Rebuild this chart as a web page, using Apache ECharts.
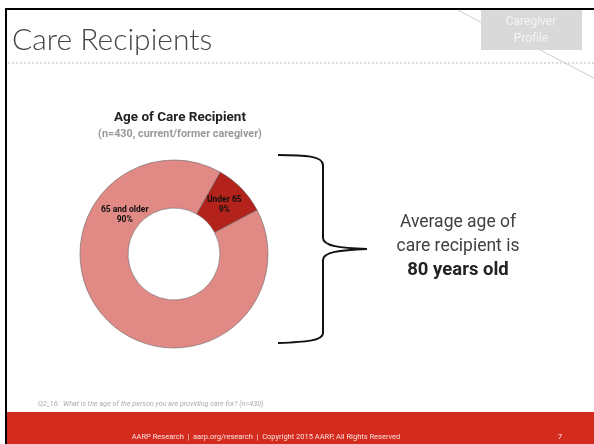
<!DOCTYPE html>
<html><head><meta charset="utf-8">
<script src="https://cdn.jsdelivr.net/npm/echarts@6/dist/echarts.min.js"></script>
<style>html,body{margin:0;padding:0;background:#fff}#c{width:594px;height:444px}</style>
</head><body><div id="c"></div>
<script>
const categories = ['Under 65', '65 and older'];
const values = [9, 90];
const sliceColors = ['#b3231b', '#e08985'];
const chartTitle = 'Age of Care Recipient';
const chartSubtitle = '(n=430, current/former caregiver)';
const pageTitle = 'Care Recipients';
const calloutLines = ['Average age of', 'care recipient is', '80 years old'];
const footnote = 'Q2_16:  What is the age of the person you are providing care for? (n=430)';
const footer = 'AARP Research  |  aarp.org/research  |  Copyright 2015 AARP, All Rights Reserved';

const FONT = '"Liberation Sans Narrow", "Roboto", sans-serif';
const chart = echarts.init(document.getElementById('c'), null, {renderer: 'canvas'});

const braceStyle = {stroke: '#111', lineWidth: 2, fill: null};
function bez(x1, y1, cpx1, cpy1, cpx2, cpy2, x2, y2) {
  return {type: 'bezierCurve', silent: true, shape: {x1, y1, x2, y2, cpx1, cpy1, cpx2, cpy2}, style: braceStyle};
}

chart.setOption({
  backgroundColor: '#fff',
  animation: false,
  title: [{
    text: chartTitle, subtext: chartSubtitle, left: 175, top: 106, textAlign: 'center', itemGap: 4,
    textStyle: {fontFamily: FONT, fontSize: 13.5, fontWeight: 'bold', color: '#222'},
    subtextStyle: {fontFamily: FONT, fontSize: 10.8, fontWeight: 'bold', color: '#999'}
  }],
  series: [{
    type: 'pie',
    center: [174, 254],
    radius: [46, 94],
    startAngle: 60.6,
    clockwise: true,
    silent: true,
    itemStyle: {borderColor: '#666', borderWidth: 0.6},
    label: {
      show: true, position: 'inside', fontFamily: FONT, fontSize: 8.5, fontWeight: 'bold', color: '#111',
      lineHeight: 10, formatter: p => p.name + '\n' + p.value + '%'
    },
    labelLayout: function (p) {
      if (p.dataIndex === 1) return {dx: 3, dy: -90};
      return {dx: -2, dy: 2};
    },
    data: categories.map((c, i) => ({name: c, value: values[i], itemStyle: {color: sliceColors[i]}}))
  }],
  graphic: [
    {type: 'rect', shape: {x: 5, y: 8, width: 2, height: 436}, style: {fill: '#000'}, silent: true},
    {type: 'rect', shape: {x: 5, y: 8, width: 589, height: 2}, style: {fill: '#000'}, silent: true},
    {type: 'line', shape: {x1: 458, y1: 10, x2: 482, y2: 23}, style: {stroke: '#cdbdb5', lineWidth: 0.8}, silent: true},
    {type: 'line', shape: {x1: 540, y1: 50, x2: 594, y2: 78}, style: {stroke: '#cdbdb5', lineWidth: 0.8}, silent: true},
    {type: 'rect', shape: {x: 481, y: 10, width: 101, height: 40}, style: {fill: '#d9d9d9'}, silent: true},
    {type: 'text', x: 531, y: 22, style: {text: 'Caregiver', fontFamily: FONT, fontSize: 12, fill: '#f4f4f4', align: 'center', verticalAlign: 'middle'}, silent: true},
    {type: 'text', x: 531, y: 39, style: {text: 'Profile', fontFamily: FONT, fontSize: 12, fill: '#f4f4f4', align: 'center', verticalAlign: 'middle'}, silent: true},
    {type: 'text', x: 12, y: 40, style: {text: pageTitle, fontFamily: 'Lato, "Open Sans", sans-serif', fontWeight: 300, fontSize: 30, fill: '#444', verticalAlign: 'middle'}, silent: true},
    {type: 'line', shape: {x1: 8, y1: 63, x2: 594, y2: 63}, style: {stroke: '#bbb', lineWidth: 1, lineDash: [2, 2]}, silent: true},
    bez(278, 155, 305, 155, 323, 156, 323, 165),
    {type: 'line', shape: {x1: 323, y1: 165, x2: 323, y2: 238}, style: braceStyle, silent: true},
    bez(323, 238, 323, 246, 340, 248, 367, 249),
    bez(367, 249, 340, 250, 323, 252, 323, 260),
    {type: 'line', shape: {x1: 323, y1: 260, x2: 323, y2: 333}, style: braceStyle, silent: true},
    bez(323, 333, 323, 341, 305, 342, 278, 343),
    {type: 'text', x: 458, y: 223, style: {text: calloutLines[0], fontFamily: FONT, fontSize: 17.5, fill: '#404040', align: 'center', verticalAlign: 'middle'}, silent: true},
    {type: 'text', x: 458, y: 247, style: {text: calloutLines[1], fontFamily: FONT, fontSize: 17.5, fill: '#404040', align: 'center', verticalAlign: 'middle'}, silent: true},
    {type: 'text', x: 458, y: 270, style: {text: calloutLines[2], fontFamily: FONT, fontSize: 18.5, fontWeight: 'bold', fill: '#222', align: 'center', verticalAlign: 'middle'}, silent: true},
    {type: 'text', x: 38, y: 404, style: {text: footnote, fontFamily: FONT, fontSize: 7.2, fontStyle: 'italic', fill: '#aaa', verticalAlign: 'middle'}, silent: true},
    {type: 'rect', shape: {x: 7, y: 412, width: 587, height: 32}, style: {fill: '#d42b1f'}, silent: true},
    {type: 'text', x: 266, y: 437, style: {text: footer, fontFamily: FONT, fontSize: 7.5, fill: '#fbe1de', align: 'center', verticalAlign: 'middle'}, silent: true},
    {type: 'text', x: 560, y: 437, style: {text: '7', fontFamily: FONT, fontSize: 8, fill: '#fbe1de', align: 'center', verticalAlign: 'middle'}, silent: true}
  ]
});
</script></body></html>
